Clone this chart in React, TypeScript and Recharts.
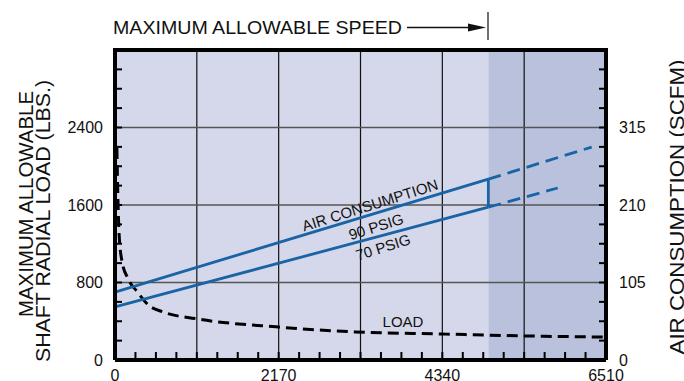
import { ComposedChart, Line, XAxis, YAxis, ReferenceArea, ReferenceLine, ReferenceDot } from "recharts";

// speed axis (rpm)
const SPEED_TICKS = [
  0, 271.25, 542.5, 813.75, 1085, 1356.25, 1627.5, 1898.75, 2170, 2441.25, 2712.5, 2983.75, 3255,
  3526.25, 3797.5, 4068.75, 4340, 4611.25, 4882.5, 5153.75, 5425, 5696.25, 5967.5, 6238.75, 6510,
];
const SPEED_LABELS = [0, 2170, 4340, 6510];
const SPEED_GRID = [1085, 2170, 3255, 4340, 5425];
const MAX_SPEED = 4950;

// load axis (lbs)
const LOAD_TICKS = [0, 200, 400, 600, 800, 1000, 1200, 1400, 1600, 1800, 2000, 2200, 2400, 2600, 2800, 3000, 3200];
const LOAD_LABELS = [0, 800, 1600, 2400];
const LOAD_GRID = [800, 1600, 2400];

// air axis (scfm)
const AIR_TICKS = [
  0, 26.25, 52.5, 78.75, 105, 131.25, 157.5, 183.75, 210, 236.25, 262.5, 288.75, 315, 341.25, 367.5, 393.75, 420,
];
const AIR_LABELS = [0, 105, 210, 315];

// series
const LOAD_RPM = [25, 40, 55, 95, 170, 300, 440, 640, 1085, 2170, 3180, 4340, 5460, 6490];
const LOAD_LBS = [2190, 1630, 1290, 1010, 845, 700, 570, 495, 425, 340, 290, 268, 248, 237];

const AIR90_RPM = [0, 4950];
const AIR90_SCFM = [92, 245];
const AIR90_EXT_RPM = [4950, 6320];
const AIR90_EXT_SCFM = [245, 288.5];

const AIR70_RPM = [0, 4950];
const AIR70_SCFM = [72, 207];
const AIR70_EXT_RPM = [4950, 5870];
const AIR70_EXT_SCFM = [207, 233];

const BLUE = "#1864a4";
const LIGHT = "#d5d8ea";
const DARK = "#b9c1dc";
const FONT = "'Liberation Sans', Arial, sans-serif";

const zip = (xs: number[], ys: number[]) => xs.map((rpm, i) => ({ rpm, v: ys[i] }));

const loadData = zip(LOAD_RPM, LOAD_LBS);
const air90 = zip(AIR90_RPM, AIR90_SCFM);
const air90Ext = zip(AIR90_EXT_RPM, AIR90_EXT_SCFM);
const air70 = zip(AIR70_RPM, AIR70_SCFM);
const air70Ext = zip(AIR70_EXT_RPM, AIR70_EXT_SCFM);
const connector = [
  { rpm: MAX_SPEED, v: AIR70_SCFM[1] },
  { rpm: MAX_SPEED, v: AIR90_SCFM[1] },
];

const NOTES = [
  { text: "AIR CONSUMPTION", rpm: 3381, value: 210, axis: "scfm", angle: -17.5 },
  { text: "90 PSIG", rpm: 3461, value: 181, axis: "scfm", angle: -17.5 },
  { text: "70 PSIG", rpm: 3554, value: 153, axis: "scfm", angle: -17.5 },
  { text: "LOAD", rpm: 3819, value: 402, axis: "lbs", angle: 0 },
];

const tickLine = { stroke: "#000", strokeWidth: 2 };
const tickText = { fontSize: 16, fill: "#111" };

function noteShape(text: string, angle: number) {
  return (p: any) => (
    <text
      x={p.cx}
      y={p.cy}
      textAnchor="middle"
      dominantBaseline="central"
      fontSize={15}
      fill="#111"
      transform={`rotate(${angle} ${p.cx} ${p.cy})`}
    >
      {text}
    </text>
  );
}

export default function App() {
  return (
    <div style={{ position: "absolute", left: 0, top: 0, width: 684, height: 381, fontFamily: FONT, background: "#fff" }}>
      <ComposedChart width={684} height={381} margin={{ top: 50, right: 0, bottom: 0, left: 0 }}>
        <XAxis
          type="number"
          dataKey="rpm"
          domain={[0, 6510]}
          ticks={SPEED_TICKS}
          interval={0}
          height={21}
          tickFormatter={(v) => (SPEED_LABELS.includes(v) ? String(v) : "")}
          tickSize={-8}
          tickMargin={18}
          tick={tickText}
          tickLine={tickLine}
          axisLine={{ stroke: "#000", strokeWidth: 4 }}
        />
        <YAxis
          yAxisId="lbs"
          type="number"
          domain={[0, 3200]}
          ticks={LOAD_TICKS}
          interval={0}
          width={115}
          tickFormatter={(v) => (LOAD_LABELS.includes(v) ? String(v) : "")}
          tickSize={-7}
          tickMargin={19}
          tick={tickText}
          tickLine={tickLine}
          axisLine={{ stroke: "#000", strokeWidth: 4 }}
        />
        <YAxis
          yAxisId="scfm"
          orientation="right"
          type="number"
          domain={[0, 420]}
          ticks={AIR_TICKS}
          interval={0}
          width={78}
          tickFormatter={(v) => (AIR_LABELS.includes(v) ? String(v) : "")}
          tickSize={-7}
          tickMargin={20}
          tick={tickText}
          tickLine={tickLine}
          axisLine={{ stroke: "#000", strokeWidth: 4 }}
        />

        <ReferenceArea yAxisId="lbs" x1={0} x2={MAX_SPEED} y1={0} y2={3200} fill={LIGHT} fillOpacity={1} stroke="none" />
        <ReferenceArea yAxisId="lbs" x1={MAX_SPEED} x2={6510} y1={0} y2={3200} fill={DARK} fillOpacity={1} stroke="none" />

        {SPEED_GRID.map((x) => (
          <ReferenceLine key={`vx${x}`} yAxisId="lbs" x={x} stroke="#111" strokeWidth={1.2} />
        ))}
        {LOAD_GRID.map((y) => (
          <ReferenceLine key={`hy${y}`} yAxisId="lbs" y={y} stroke="#555" strokeWidth={1.6} />
        ))}
        <ReferenceLine yAxisId="lbs" y={3200} stroke="#000" strokeWidth={4} strokeLinecap="square" />

        <Line yAxisId="lbs" data={loadData} dataKey="v" type="monotone" stroke="#000" strokeWidth={3}
          strokeDasharray="11 6" dot={false} isAnimationActive={false} />
        <Line yAxisId="scfm" data={air90} dataKey="v" type="linear" stroke={BLUE} strokeWidth={2.8}
          dot={false} isAnimationActive={false} />
        <Line yAxisId="scfm" data={air70} dataKey="v" type="linear" stroke={BLUE} strokeWidth={2.8}
          dot={false} isAnimationActive={false} />
        <Line yAxisId="scfm" data={connector} dataKey="v" type="linear" stroke={BLUE} strokeWidth={2.8}
          dot={false} isAnimationActive={false} />
        <Line yAxisId="scfm" data={air90Ext} dataKey="v" type="linear" stroke={BLUE} strokeWidth={2.8}
          strokeDasharray="13 7" dot={false} isAnimationActive={false} />
        <Line yAxisId="scfm" data={air70Ext} dataKey="v" type="linear" stroke={BLUE} strokeWidth={2.8}
          strokeDasharray="13 7" dot={false} isAnimationActive={false} />

        {NOTES.map((n) => (
          <ReferenceDot key={n.text} yAxisId={n.axis} x={n.rpm} y={n.value} r={0} shape={noteShape(n.text, n.angle)} />
        ))}
      </ComposedChart>

      <svg width={684} height={381} style={{ position: "absolute", left: 0, top: 0, pointerEvents: "none" }}>
        <text x={113} y={34} fontSize={18.5} fill="#111" textLength={289} lengthAdjust="spacingAndGlyphs">
          MAXIMUM ALLOWABLE SPEED
        </text>
        <line x1={407} y1={27.5} x2={472} y2={27.5} stroke="#111" strokeWidth={1.3} />
        <polygon points="468,23.5 486,27.5 468,31.5" fill="#111" />
        <line x1={488} y1={12} x2={488} y2={40} stroke="#111" strokeWidth={1.2} />

        <text x={33} y={204} fontSize={20.5} fill="#111" textAnchor="middle" textLength={226}
          lengthAdjust="spacingAndGlyphs" transform="rotate(-90 33 204)">
          MAXIMUM ALLOWABLE
        </text>
        <text x={50} y={221} fontSize={20.5} fill="#111" textAnchor="middle" textLength={282}
          lengthAdjust="spacingAndGlyphs" transform="rotate(-90 50 221)">
          SHAFT RADIAL LOAD (LBS.)
        </text>
        <text x={684} y={207} fontSize={20.5} fill="#111" textAnchor="middle" textLength={295}
          lengthAdjust="spacingAndGlyphs" transform="rotate(-90 684 207)">
          AIR CONSUMPTION (SCFM)
        </text>
      </svg>
    </div>
  );
}
